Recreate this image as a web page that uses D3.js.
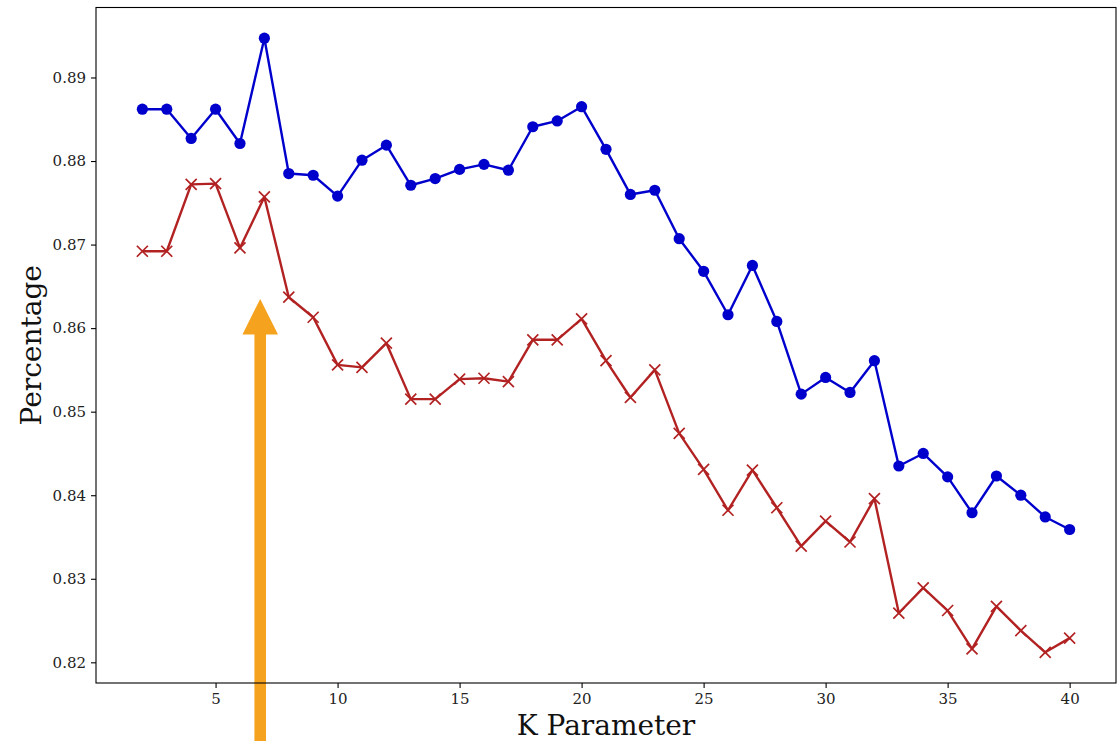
<!DOCTYPE html>
<html>
<head>
<meta charset="utf-8">
<script src="https://cdn.jsdelivr.net/npm/d3@7"></script>
<style>
  html, body { margin: 0; padding: 0; background: #ffffff; }
  svg { display: block; }
  .tick text { font-family: "DejaVu Serif", serif; }
</style>
</head>
<body>
<script>
// K values tried
const kValues = [2, 3, 4, 5, 6, 7, 8, 9, 10, 11, 12, 13, 14, 15, 16, 17, 18, 19, 20,
  21, 22, 23, 24, 25, 26, 27, 28, 29, 30, 31, 32, 33, 34, 35, 36, 37, 38, 39, 40];

// upper series (circles)
const seriesBlue = [0.8862, 0.8862, 0.8827, 0.8862, 0.8821, 0.8947, 0.8785, 0.8783, 0.8758,
  0.8801, 0.8819, 0.8771, 0.8779, 0.8790, 0.8796, 0.8789, 0.8841, 0.8848, 0.8865,
  0.8814, 0.8760, 0.8765, 0.8707, 0.8668, 0.8616, 0.8675, 0.8608, 0.8521, 0.8541,
  0.8523, 0.8561, 0.8435, 0.8450, 0.8422, 0.8379, 0.8423, 0.8400, 0.8374, 0.8359];

// lower series (crosses)
const seriesRed = [0.8692, 0.8692, 0.8772, 0.8773, 0.8696, 0.8757, 0.8637, 0.8613, 0.8556,
  0.8553, 0.8582, 0.8515, 0.8515, 0.8539, 0.8540, 0.8536, 0.8586, 0.8586, 0.8611,
  0.8561, 0.8517, 0.8550, 0.8474, 0.8431, 0.8382, 0.8430, 0.8385, 0.8339, 0.8369,
  0.8344, 0.8396, 0.8259, 0.8289, 0.8262, 0.8216, 0.8267, 0.8238, 0.8212, 0.8229];

const xTicks = [5, 10, 15, 20, 25, 30, 35, 40];
const yTicks = [0.82, 0.83, 0.84, 0.85, 0.86, 0.87, 0.88, 0.89];

// arrow marking the chosen K (tip position in data units)
const arrowTip = [6.83, 0.8635];

const W = 1117, H = 741;
const plotLeft = 96, plotRight = 1116, plotTop = 7.5, plotBottom = 683;

const svg = d3.select("body").append("svg")
  .attr("width", W).attr("height", H);

// 5% padding around the data, like the default plot margins
const xExt = d3.extent(kValues);
const xPad = (xExt[1] - xExt[0]) * 0.05;
const allY = seriesBlue.concat(seriesRed);
const yExt = d3.extent(allY);
const yPad = (yExt[1] - yExt[0]) * 0.05;

const x = d3.scaleLinear().domain([xExt[0] - xPad, xExt[1] + xPad]).range([plotLeft, plotRight]);
const y = d3.scaleLinear().domain([yExt[0] - yPad, yExt[1] + yPad]).range([plotBottom, plotTop]);

// axes
const xAxis = d3.axisBottom(x).tickValues(xTicks).tickFormat(d3.format("d"))
  .tickSize(5).tickPadding(5);
const yAxis = d3.axisLeft(y).tickValues(yTicks).tickFormat(d3.format(".2f"))
  .tickSize(5).tickPadding(5);

const gx = svg.append("g").attr("transform", `translate(0,${plotBottom})`).call(xAxis);
const gy = svg.append("g").attr("transform", `translate(${plotLeft},0)`).call(yAxis);
[gx, gy].forEach(g => {
  g.select(".domain").remove();
  g.selectAll(".tick line").attr("stroke", "#000").attr("stroke-width", 1.1);
  g.selectAll(".tick text").attr("fill", "#222").style("font-size", "15px");
});

const pairs = s => kValues.map((k, i) => [k, s[i]]);
const line = d3.line().x(d => x(d[0])).y(d => y(d[1]));

// upper series
svg.append("path").datum(pairs(seriesBlue))
  .attr("fill", "none").attr("stroke", "#0000cd").attr("stroke-width", 2.4)
  .attr("stroke-linejoin", "round").attr("d", line);
svg.append("g").selectAll("circle").data(pairs(seriesBlue)).join("circle")
  .attr("cx", d => x(d[0])).attr("cy", d => y(d[1])).attr("r", 5.6)
  .attr("fill", "#0000cd");

// lower series
svg.append("path").datum(pairs(seriesRed))
  .attr("fill", "none").attr("stroke", "#b22222").attr("stroke-width", 2.4)
  .attr("stroke-linejoin", "round").attr("d", line);
const xs = 5.5;
svg.append("g").selectAll("path").data(pairs(seriesRed)).join("path")
  .attr("d", d => {
    const cx = x(d[0]), cy = y(d[1]);
    return `M${cx - xs},${cy - xs}L${cx + xs},${cy + xs}M${cx - xs},${cy + xs}L${cx + xs},${cy - xs}`;
  })
  .attr("stroke", "#b22222").attr("stroke-width", 1.7).attr("fill", "none");

// arrow rising from below the axes
{
  const tx = x(arrowTip[0]), ty = y(arrowTip[1]);
  const shaftHalf = 5.8, headHalf = 17.8, headLen = 35.7;
  const p = d3.path();
  p.moveTo(tx, ty);
  p.lineTo(tx + headHalf, ty + headLen);
  p.lineTo(tx + shaftHalf, ty + headLen);
  p.lineTo(tx + shaftHalf, H + 20);
  p.lineTo(tx - shaftHalf, H + 20);
  p.lineTo(tx - shaftHalf, ty + headLen);
  p.lineTo(tx - headHalf, ty + headLen);
  p.closePath();
  svg.append("path").attr("d", p.toString()).attr("fill", "#f5a31e");
}

// frame
svg.append("rect")
  .attr("x", plotLeft).attr("y", plotTop)
  .attr("width", plotRight - plotLeft).attr("height", plotBottom - plotTop)
  .attr("fill", "none").attr("stroke", "#000").attr("stroke-width", 1.1);

// axis titles
svg.append("text")
  .attr("x", (plotLeft + plotRight) / 2).attr("y", 735)
  .attr("text-anchor", "middle")
  .style("font-family", "'DejaVu Serif', serif").style("font-size", "28px")
  .attr("fill", "#111").text("K Parameter");

svg.append("text")
  .attr("transform", `translate(41,${(plotTop + plotBottom) / 2}) rotate(-90)`)
  .attr("text-anchor", "middle")
  .style("font-family", "'DejaVu Serif', serif").style("font-size", "28px")
  .attr("fill", "#111").text("Percentage");
</script>
</body>
</html>
